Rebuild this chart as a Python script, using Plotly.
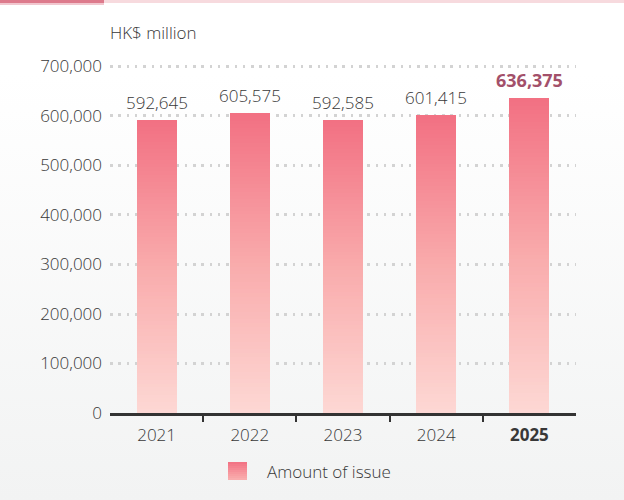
import plotly.graph_objects as go
import urllib.parse

# ---- data ----
years = ["2021", "2022", "2023", "2024", "2025"]
amounts = [592645, 605575, 592585, 601415, 636375]
value_labels = ["592,645", "605,575", "592,585", "601,415", "636,375"]
y_tickvals = [0, 100000, 200000, 300000, 400000, 500000, 600000, 700000]
y_ticktext = ["0", "100,000", "200,000", "300,000", "400,000", "500,000", "600,000", "700,000"]
unit_label = "HK$ million"
legend_label = "Amount of issue"

W, H = 624, 500
YMAX = 703000
ML, MR, MB = 110, 48, 87
MT = 66.5 - 3000 * (413 - 66.5) / 700000
PW, PH = W - ML - MR, H - MT - MB
FONT = "Open Sans"
FS = 17
TXT = "#383838"

def px_x(px):
    return (px - ML) / PW

def px_y(py):
    return 1 - (py - MT) / PH

stops = [(0.0, (253, 216, 212)), (0.5, (249, 171, 172)), (1.0, (242, 112, 130))]

def grad(t):
    for (t0, c0), (t1, c1) in zip(stops[:-1], stops[1:]):
        if t0 <= t <= t1:
            f = (t - t0) / (t1 - t0)
            c = [round(a + (b - a) * f) for a, b in zip(c0, c1)]
            return "rgb(%d,%d,%d)" % tuple(c)
    return "rgb(%d,%d,%d)" % stops[-1][1]

N = 80
xs, ys, bases, cols = [], [], [], []
for i, v in enumerate(amounts):
    for k in range(N):
        xs.append(i)
        bases.append(v * k / N)
        ys.append(v / N * 1.02 if k < N - 1 else v / N)
        cols.append(grad((k + 0.5) / N))

fig = go.Figure()
fig.add_trace(go.Bar(x=xs, y=ys, base=bases, width=0.43,
                     marker=dict(color=cols, line=dict(width=0)),
                     hoverinfo="skip", showlegend=False))

label_colors = [TXT] * 4 + ["#A3506A"]
label_sizes = [FS] * 4 + [FS + 1]
label_weights = [300] * 4 + [700]

annotations = []
for i, (v, t) in enumerate(zip(amounts, value_labels)):
    annotations.append(dict(x=i, y=v, xref="x", yref="y", text=t, showarrow=False,
                            xanchor="center", yanchor="bottom", yshift=4,
                            font=dict(family=FONT, size=label_sizes[i],
                                      color=label_colors[i], weight=label_weights[i])))

xticktext = [("<b>%s</b>" % y) if y == "2025" else y for y in years]

svg = ("<svg xmlns='http://www.w3.org/2000/svg' width='624' height='500'>"
       "<defs><linearGradient id='g' x1='0' y1='0' x2='0' y2='1'>"
       "<stop offset='0' stop-color='#FFFFFF'/><stop offset='0.15' stop-color='#FFFFFF'/>"
       "<stop offset='1' stop-color='#F2F3F3'/></linearGradient></defs>"
       "<rect width='624' height='500' fill='url(#g)'/></svg>")
src = "data:image/svg+xml;charset=utf-8," + urllib.parse.quote(svg)

shapes = []
shapes.append(dict(type="rect", xref="paper", yref="paper",
                   x0=px_x(0), x1=px_x(624), y0=px_y(3), y1=px_y(0),
                   fillcolor="#F7DADE", line=dict(width=0), layer="above"))
shapes.append(dict(type="rect", xref="paper", yref="paper",
                   x0=px_x(0), x1=px_x(104), y0=px_y(5), y1=px_y(0),
                   fillcolor="#F1C7CF", line=dict(width=0), layer="above"))
shapes.append(dict(type="rect", xref="paper", yref="paper",
                   x0=px_x(0), x1=px_x(104), y0=px_y(3), y1=px_y(0),
                   fillcolor="#DD7A8C", line=dict(width=0), layer="above"))
sw_x0, sw_x1, sw_y0, sw_y1 = 228, 247, 462, 480
nsw = 9
for k in range(nsw):
    ya = sw_y0 + (sw_y1 - sw_y0) * k / nsw
    yb = min(sw_y1, ya + (sw_y1 - sw_y0) / nsw + 1.0)
    t = 1 - (k + 0.5) / nsw
    c = grad(0.45 + 0.55 * t)
    shapes.append(dict(type="rect", xref="paper", yref="paper",
                       x0=px_x(sw_x0), x1=px_x(sw_x1), y0=px_y(yb), y1=px_y(ya),
                       fillcolor=c, line=dict(width=0), layer="above"))

annotations += [
    dict(text=unit_label, xref="paper", yref="paper", x=px_x(108), y=px_y(33),
         xanchor="left", yanchor="middle", showarrow=False,
         font=dict(family=FONT, size=FS, color=TXT, weight=300)),
    dict(text=legend_label, xref="paper", yref="paper", x=px_x(265), y=px_y(471),
         xanchor="left", yanchor="middle", showarrow=False,
         font=dict(family=FONT, size=FS, color=TXT, weight=300)),
]

fig.update_layout(
    width=W, height=H,
    margin=dict(l=ML, r=MR, t=MT, b=MB, pad=0),
    paper_bgcolor="#F7F7F7", plot_bgcolor="rgba(0,0,0,0)",
    barmode="overlay", bargap=0,
    showlegend=False,
    shapes=shapes, annotations=annotations,
    images=[dict(source=src, xref="paper", yref="paper", x=px_x(0), y=px_y(0),
                 sizex=W / PW, sizey=H / PH, sizing="stretch",
                 xanchor="left", yanchor="top", layer="below")],
    font=dict(family=FONT, color=TXT),
)
fig.update_xaxes(
    range=[-0.5, 4.5], tickmode="array", tickvals=list(range(len(years))),
    ticktext=xticktext, ticks="", showgrid=False, zeroline=False,
    showline=True, linecolor="#333333", linewidth=2.5,
    tickfont=dict(family=FONT, size=FS, color=TXT, weight=300),
    ticklabelstandoff=5,
    minor=dict(tickvals=[0.5, 1.5, 2.5, 3.5], ticks="outside", ticklen=6,
               tickwidth=1.5, tickcolor="#333333", showgrid=False),
    fixedrange=True,
)
fig.update_yaxes(
    range=[0, YMAX], tickmode="array", tickvals=y_tickvals, ticktext=y_ticktext,
    ticks="", showgrid=True, gridcolor="#D3D3D3", gridwidth=2.5,
    griddash="2.5px,5.8px", zeroline=False, showline=False,
    tickfont=dict(family=FONT, size=FS, color=TXT, weight=300),
    ticklabelstandoff=7, fixedrange=True,
)

fig.write_html("out.html")
